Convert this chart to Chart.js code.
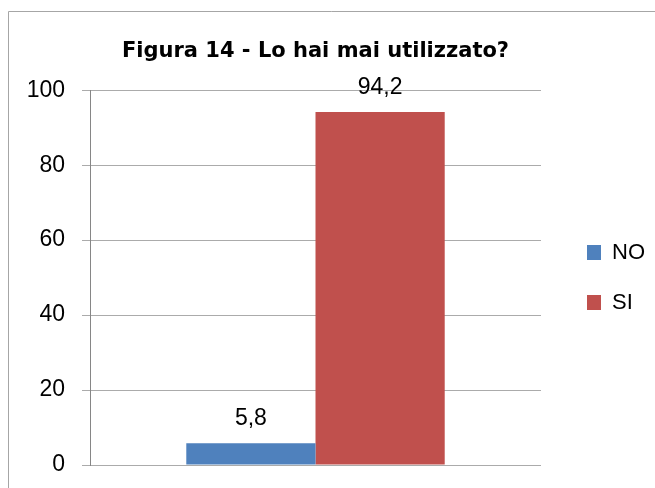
<!DOCTYPE html>
<html>
<head>
<meta charset="utf-8">
<title>Figura 14</title>
<script src="https://cdn.jsdelivr.net/npm/chart.js@4/dist/chart.umd.min.js"></script>
<style>
    html, body { margin: 0; padding: 0; background: #fff; overflow: hidden; }
    #grafico { display: block; }
</style>
</head>
<body>
<canvas id="grafico" width="655" height="488"></canvas>
<script>
// --- DATI DEL GRAFICO ---
const titolo = 'Figura 14 - Lo hai mai utilizzato?';
const categorie = [''];
const serieNomi = ['NO', 'SI'];
const valoriNO = [5.8];
const valoriSI = [94.2];
const coloriSerie = ['#4f81bd', '#c0504d'];
const yTicks = [0, 20, 40, 60, 80, 100];

// Cornice dell'area grafico (solo lati sinistro e superiore sono visibili)
const cornice = {
    id: 'cornice',
    beforeDraw(chart) {
        const ctx = chart.ctx;
        ctx.save();
        ctx.strokeStyle = '#a6a6a6';
        ctx.lineWidth = 1;
        ctx.beginPath();
        ctx.moveTo(8.5, chart.height);
        ctx.lineTo(8.5, 11.5);
        ctx.lineTo(chart.width, 11.5);
        ctx.stroke();
        ctx.restore();
    }
};

// Etichette dei valori sopra le barre (virgola decimale)
const etichetteValori = {
    id: 'etichetteValori',
    afterDatasetsDraw(chart) {
        const ctx = chart.ctx;
        ctx.save();
        ctx.font = '23px "Liberation Sans", Arial, sans-serif';
        ctx.fillStyle = '#000';
        ctx.textAlign = 'center';
        ctx.textBaseline = 'alphabetic';
        chart.data.datasets.forEach((ds, i) => {
            chart.getDatasetMeta(i).data.forEach((bar, j) => {
                const testo = ds.data[j].toFixed(1).replace('.', ',');
                ctx.fillText(testo, bar.x, bar.y - 18);
            });
        });
        ctx.restore();
    }
};

function inizializzaGrafico() {
    const canvas = document.getElementById('grafico');
    if (!canvas) return;

    new Chart(canvas, {
        type: 'bar',
        data: {
            labels: categorie,
            datasets: [
                { label: serieNomi[0], data: valoriNO, backgroundColor: coloriSerie[0] },
                { label: serieNomi[1], data: valoriSI, backgroundColor: coloriSerie[1] }
            ]
        },
        options: {
            responsive: false,
            animation: false,
            devicePixelRatio: 1,
            layout: { padding: { left: 0, right: 0, top: 0, bottom: 23 } },
            datasets: { bar: { categoryPercentage: 0.573, barPercentage: 1 } },
            scales: {
                x: { display: false },
                y: {
                    min: yTicks[0],
                    max: yTicks[yTicks.length - 1],
                    ticks: {
                        stepSize: yTicks[1] - yTicks[0],
                        padding: 17,
                        color: '#000',
                        font: { family: '"Liberation Sans", Arial, sans-serif', size: 23 }
                    },
                    grid: { color: '#ababab', tickLength: 8, tickColor: '#ababab' },
                    border: { color: '#868686' },
                    afterFit(scala) {
                        scala.width = 90;
                        // il padding delle etichette non deve ridurre l'area verticale
                        scala.paddingTop = 0;
                        scala.paddingBottom = 0;
                    }
                },
                // spazio vuoto tra area del grafico e legenda
                spazio: {
                    type: 'linear',
                    position: 'right',
                    display: true,
                    grid: { display: false },
                    border: { display: false },
                    ticks: { display: false },
                    afterFit(scala) { scala.width = 18; }
                }
            },
            plugins: {
                title: {
                    display: true,
                    text: titolo,
                    fullSize: false,
                    color: '#000',
                    font: { family: '"DejaVu Sans", Verdana, sans-serif', size: 21, weight: 'bold', lineHeight: 1.2 },
                    padding: { top: 39, bottom: 26 }
                },
                legend: {
                    position: 'right',
                    fullSize: false,
                    labels: {
                        boxWidth: 14,
                        boxHeight: 15,
                        padding: 28,
                        color: '#000',
                        font: { family: '"Liberation Sans", Arial, sans-serif', size: 22 }
                    }
                },
                tooltip: { enabled: false }
            }
        },
        plugins: [cornice, etichetteValori]
    });
}

document.addEventListener('DOMContentLoaded', function() {
    inizializzaGrafico();
});
</script>
</body>
</html>
